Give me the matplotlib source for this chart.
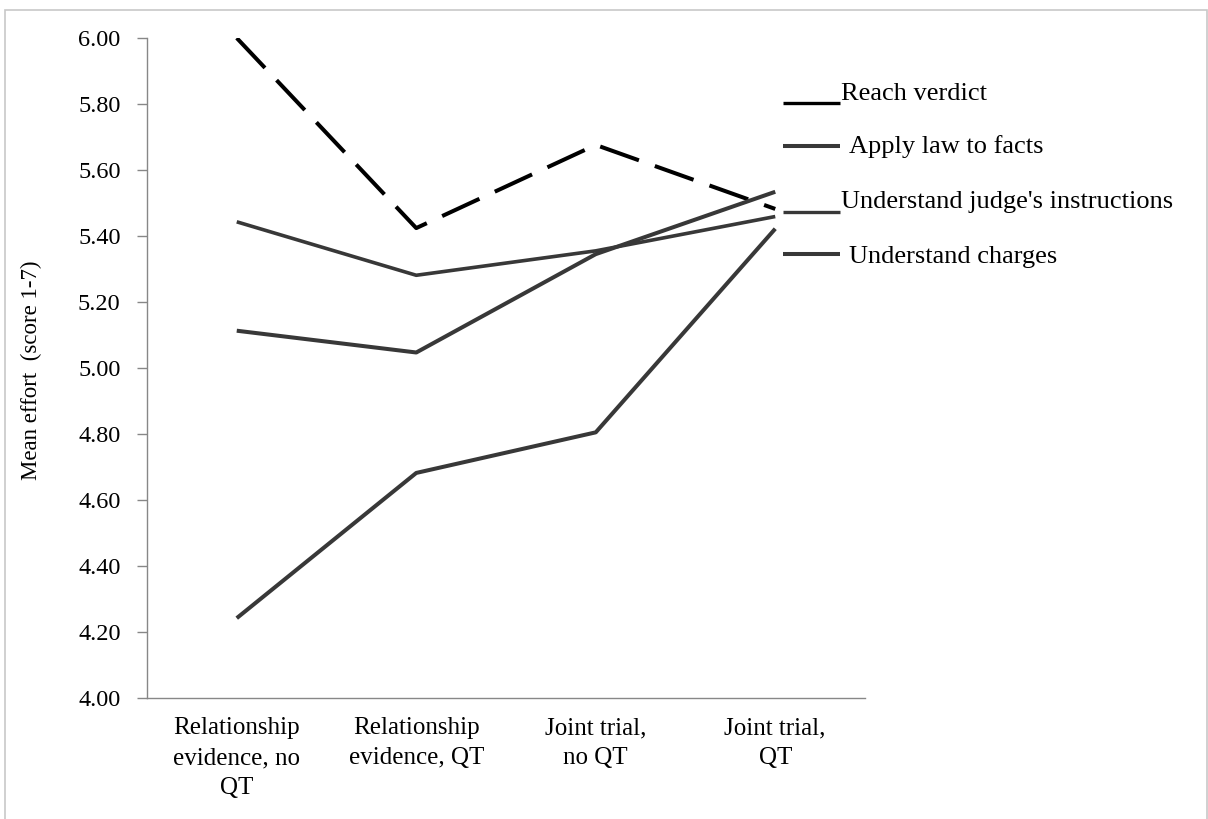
import matplotlib
matplotlib.use("Agg")
import matplotlib.pyplot as plt
from matplotlib.patches import Rectangle
from matplotlib.lines import Line2D

plt.rcParams['font.family'] = ['Liberation Serif', 'DejaVu Serif']

# data
categories = ["Relationship\nevidence, no\nQT", "Relationship\nevidence, QT",
              "Joint trial,\nno QT", "Joint trial,\nQT"]
reach_verdict = [6.00, 5.424, 5.676, 5.482]
apply_law = [5.113, 5.047, 5.345, 5.534]
judges_instructions = [5.443, 5.281, 5.355, 5.459]
understand_charges = [4.242, 4.682, 4.805, 5.422]
yticks = [4.00, 4.20, 4.40, 4.60, 4.80, 5.00, 5.20, 5.40, 5.60, 5.80, 6.00]

W, H = 1208, 819
fig = plt.figure(figsize=(W / 100, H / 100), dpi=100)
ax = fig.add_axes([147 / W, 1 - 698 / H, (865 - 147) / W, (698 - 38) / H])

x = range(len(categories))
lw = 2.9
grey = '#383838'
ax.plot(x, reach_verdict, color='black', lw=lw, dashes=(10.2, 4.2),
        solid_capstyle='butt', dash_capstyle='butt')
ax.plot(x, judges_instructions, color=grey, lw=lw * 0.9, solid_capstyle='butt')
ax.plot(x, apply_law, color=grey, lw=lw, solid_capstyle='butt')
ax.plot(x, understand_charges, color=grey, lw=lw, solid_capstyle='butt')

ax.set_xlim(-0.5, 3.5)
ax.set_ylim(4.0, 6.0)
ax.set_yticks(yticks)
ax.set_yticklabels(["%.2f" % v for v in yticks], fontsize=17.5)
ax.set_xticks(list(x))
ax.set_xticklabels(categories, fontsize=18, linespacing=1.47)
ax.tick_params(axis='x', length=0, pad=14)
ax.tick_params(axis='y', length=7, width=1, color='#878787', pad=12)
for side in ['top', 'right']:
    ax.spines[side].set_visible(False)
for side in ['left', 'bottom']:
    ax.spines[side].set_color('#878787')
    ax.spines[side].set_linewidth(1)

fig.text(31 / W, 1 - 370 / H, "Mean effort  (score 1-7)", rotation=90,
         ha='center', va='center', fontsize=16.5)

# hand-made legend, as in the original: (label, segment y, text baseline y, text x, colour, width)
legend = [
    ("Reach verdict", 102.5, 99.5, 841, 'black', 2.4),
    ("Apply law to facts", 146, 152.5, 849, grey, 2.9),
    ("Understand judge's instructions", 211.5, 208, 841, grey, 2.4),
    ("Understand charges", 253.5, 262.5, 849, grey, 2.9),
]
for label, seg_y, txt_y, txt_x, col, w in legend:
    fig.add_artist(Line2D([783 / W, 840 / W], [1 - seg_y / H, 1 - seg_y / H],
                          color=col, lw=w, solid_capstyle='butt'))
    fig.text(txt_x / W, 1 - txt_y / H, label, ha='left', va='baseline', fontsize=19)

fig.add_artist(Rectangle((5 / W, -0.02), 1202 / W, 1.02 - 10 / H,
                         fill=False, edgecolor='#c8c8c8', lw=1.2))

fig.savefig("out.png", dpi=100)
